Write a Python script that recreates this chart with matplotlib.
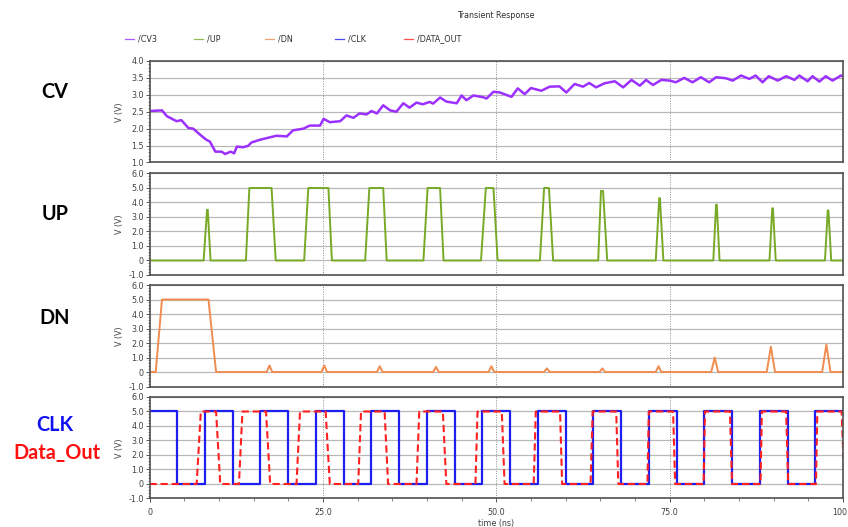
import numpy as np
import matplotlib
matplotlib.use("Agg")
import matplotlib.pyplot as plt
from matplotlib.lines import Line2D
from matplotlib.ticker import MultipleLocator, FixedLocator, FuncFormatter

# ---------------- data (time in ns, voltage in V) ----------------
cv_t = [0.0, 1.8, 2.5, 3.9, 4.6, 5.6, 6.3, 7.3, 8.2, 8.7, 9.5, 10.4, 10.9, 11.7, 12.2,
        12.6, 13.5, 14.2, 14.7, 15.9, 16.9, 18.3, 19.8, 20.7, 22.2, 23.1, 24.6, 25.1,
        26.0, 27.5, 28.4, 29.4, 30.3, 31.3, 32.0, 32.8, 33.7, 34.7, 35.6, 36.6, 37.5,
        38.5, 39.4, 40.4, 40.9, 41.9, 42.8, 44.3, 45.0, 45.7, 46.7, 48.1, 48.6, 49.6,
        50.5, 52.2, 53.1, 54.1, 55.0, 56.5, 57.7, 59.1, 60.1, 61.3, 62.5, 63.4, 64.4,
        65.6, 67.1, 68.3, 69.5, 70.7, 71.6, 72.6, 73.8, 75.0, 75.9, 77.1, 78.3, 79.5,
        80.7, 81.7, 83.1, 84.1, 85.3, 86.5, 87.4, 88.4, 89.3, 90.6, 91.8, 93.0, 93.7,
        94.9, 95.6, 96.6, 97.5, 98.5, 99.7, 100.0]
cv_v = [2.52, 2.54, 2.37, 2.22, 2.25, 2.02, 2.00, 1.82, 1.67, 1.62, 1.32, 1.32, 1.25, 1.32, 1.27,
        1.47, 1.45, 1.49, 1.59, 1.67, 1.72, 1.79, 1.77, 1.95, 2.00, 2.09, 2.09, 2.29,
        2.19, 2.22, 2.39, 2.32, 2.45, 2.42, 2.52, 2.45, 2.69, 2.54, 2.50, 2.75, 2.62,
        2.77, 2.72, 2.79, 2.74, 2.92, 2.80, 2.75, 2.98, 2.84, 2.98, 2.93, 2.89, 3.09,
        3.07, 2.94, 3.19, 3.02, 3.20, 3.12, 3.24, 3.25, 3.07, 3.32, 3.24, 3.35, 3.22,
        3.34, 3.40, 3.22, 3.44, 3.27, 3.44, 3.29, 3.44, 3.42, 3.37, 3.50, 3.37, 3.52,
        3.37, 3.52, 3.49, 3.42, 3.57, 3.47, 3.57, 3.37, 3.55, 3.42, 3.55, 3.44, 3.57,
        3.40, 3.55, 3.39, 3.55, 3.42, 3.57, 3.55]

# UP pulses: rise start / rise end / fall start / fall end / peak
up_rise0 = [7.8, 13.9, 22.3, 31.1, 39.5, 47.8, 56.3, 64.7, 73.0, 81.3, 89.4, 97.4]
up_rise1 = [8.3, 14.4, 22.9, 31.7, 40.1, 48.5, 56.9, 65.1, 73.5, 81.7, 89.8, 97.8]
up_fall0 = [8.4, 17.6, 25.8, 33.7, 41.9, 49.6, 57.6, 65.4, 73.6, 81.8, 89.9, 97.9]
up_fall1 = [8.8, 18.2, 26.3, 34.2, 42.4, 50.2, 58.2, 66.0, 74.1, 82.2, 90.3, 98.3]
up_peak = [3.5, 5.0, 5.0, 5.0, 5.0, 5.0, 5.0, 4.8, 4.3, 3.85, 3.6, 3.45]

# DN pulses
dn_rise0 = [0.9, 16.9, 24.8, 32.8, 40.9, 48.9, 56.9, 64.9, 73.0, 81.0, 89.0, 97.0]
dn_rise1 = [1.8, 17.3, 25.2, 33.2, 41.3, 49.3, 57.3, 65.3, 73.4, 81.5, 89.6, 97.6]
dn_fall0 = [8.5, 17.3, 25.2, 33.2, 41.3, 49.3, 57.3, 65.3, 73.4, 81.5, 89.6, 97.6]
dn_fall1 = [9.6, 17.7, 25.6, 33.6, 41.7, 49.7, 57.7, 65.7, 73.8, 82.0, 90.2, 98.2]
dn_peak = [5.0, 0.45, 0.45, 0.40, 0.35, 0.40, 0.25, 0.25, 0.40, 1.0, 1.75, 1.9]

# CLK edges
clk_fall = [4, 12, 20, 28, 36, 44, 52, 60, 68, 76, 84, 92]
clk_rise = [8, 16, 24, 32, 40, 48, 56, 64, 72, 80, 88, 96]
clk_high = 5.0

# DATA_OUT edges
data_rise0 = [6.8, 12.9, 21.2, 30.1, 38.5, 47.0, 55.4, 63.6, 71.8, 79.9, 88.1, 96.1]
data_rise1 = [7.4, 13.4, 21.7, 30.5, 38.9, 47.3, 55.7, 63.9, 72.0, 80.1, 88.3, 96.3]
data_fall0 = [9.6, 16.8, 25.4, 33.9, 42.3, 50.8, 59.2, 67.3, 75.5, 83.7, 91.8, 99.8]
data_fall1 = [10.2, 17.4, 26.0, 34.4, 42.8, 51.2, 59.5, 67.6, 75.8, 84.0, 92.1, 100.2]
data_high = 5.0

t_end = 100.0

x_ticks = [0, 25, 50, 75, 100]


def pulse_train(r0, r1, f0, f1, peaks):
    t, v = [0.0], [0.0]
    for a, b, c, d, p in zip(r0, r1, f0, f1, peaks):
        t += [a, b, c, d]
        v += [0.0, p, p, 0.0]
    t.append(t_end)
    v.append(0.0)
    return t, v


def clock_wave(falls, rises, high):
    t, v = [0.0], [high]
    for f, r in zip(falls, rises):
        t += [f, f, r, r]
        v += [high, 0.0, 0.0, high]
    t.append(t_end)
    v.append(high)
    return t, v


up_t, up_v = pulse_train(up_rise0, up_rise1, up_fall0, up_fall1, up_peak)
dn_t, dn_v = pulse_train(dn_rise0, dn_rise1, dn_fall0, dn_fall1, dn_peak)
clk_t, clk_v = clock_wave(clk_fall, clk_rise, clk_high)
data_t, data_v = pulse_train(data_rise0, data_rise1, data_fall0, data_fall1,
                             [data_high] * len(data_rise0))

# ---------------- styling ----------------
C_CV = "#9b30ff"
C_UP = "#78aa28"
C_DN = "#f08c50"
C_CLK = "#1e1ef0"
C_DATA = "#ff2020"
TICK_C = "#404040"
FS = 5.8

fig = plt.figure(figsize=(8.48, 5.27), dpi=100)
fig.patch.set_facecolor("white")

left, width, height = 0.1763, 0.8178, 0.1926
bottoms = [0.6917, 0.4782, 0.2666, 0.0541]
axes = [fig.add_axes([left, b, width, height]) for b in bottoms]


def vfmt(v, pos):
    return "0" if abs(v) < 1e-9 else f"{v:.1f}"


for i, ax in enumerate(axes):
    ax.set_xlim(0, 100)
    for s in ax.spines.values():
        s.set_color("#505050")
        s.set_linewidth(1.2)
    ax.yaxis.set_major_formatter(FuncFormatter(vfmt))
    ax.tick_params(axis="y", which="major", length=3, width=0.7, colors="#555555",
                   labelsize=FS, labelcolor=TICK_C, pad=1)
    ax.tick_params(axis="y", which="minor", length=1.6, width=0.5, colors="#555555")
    ax.grid(True, axis="y", which="major", color="#b8b8b8", linewidth=0.9, linestyle="-")
    ax.set_axisbelow(True)
    for xv in [25, 50, 75]:
        ax.axvline(xv, color="#8a8a8a", linewidth=0.7, linestyle=(0, (1, 1.5)), zorder=0.5)
    ax.set_ylabel("V (V)", fontsize=FS, color=TICK_C)
    ax.yaxis.set_label_coords(-0.037, 0.5)
    if i < 3:
        ax.tick_params(axis="x", which="both", length=0, labelbottom=False)
    else:
        ax.xaxis.set_major_locator(FixedLocator(x_ticks))
        ax.xaxis.set_major_formatter(FuncFormatter(vfmt))
        ax.xaxis.set_minor_locator(MultipleLocator(5))
        ax.tick_params(axis="x", which="major", length=3, width=0.7, colors="#555555",
                       labelsize=FS, labelcolor=TICK_C, pad=4)
        ax.tick_params(axis="x", which="minor", length=2, width=0.5, colors="#555555")
        ax.set_xlabel("time (ns)", fontsize=FS, color=TICK_C, labelpad=1)

# CV
ax = axes[0]
ax.set_ylim(1.0, 4.0)
ax.yaxis.set_major_locator(MultipleLocator(0.5))
ax.yaxis.set_minor_locator(MultipleLocator(0.1))
ax.plot(cv_t, cv_v, color=C_CV, linewidth=1.8, solid_joinstyle="round")

# UP / DN / CLK panels share -1..6 range
for ax in axes[1:]:
    ax.set_ylim(-1.0, 6.0)
    ax.yaxis.set_major_locator(MultipleLocator(1.0))
    ax.yaxis.set_minor_locator(MultipleLocator(0.2))

axes[1].plot(up_t, up_v, color=C_UP, linewidth=1.4)
axes[2].plot(dn_t, dn_v, color=C_DN, linewidth=1.4)
axes[3].plot(clk_t, clk_v, color=C_CLK, linewidth=1.6)
axes[3].plot(data_t, data_v, color=C_DATA, linewidth=1.5, linestyle=(0, (3.5, 1.8)))

# title and legend row
fig.text(0.5847, 1 - 15 / 527, "Transient Response", ha="center", va="center",
         fontsize=FS, color="#303030")
legend_items = [("/CV3", C_CV), ("/UP", C_UP), ("/DN", C_DN), ("/CLK", C_CLK),
                ("/DATA_OUT", C_DATA)]
legend_x = [125, 194, 265, 335, 404]
ly = 1 - 39 / 527
for (lab, col), px in zip(legend_items, legend_x):
    fig.add_artist(Line2D([px / 848, (px + 9) / 848], [ly, ly], color=col,
                          linewidth=0.9, alpha=0.8, transform=fig.transFigure))
    fig.text((px + 13) / 848, ly, lab, ha="left", va="center", fontsize=FS, color="#303030")

# panel names on the left
bold = dict(fontsize=14.3, fontweight="bold", family=["Lato", "DejaVu Sans"],
            ha="center", va="center")
fig.text(55 / 848, 1 - 92 / 527, "CV", color="black", **bold)
fig.text(55 / 848, 1 - 214 / 527, "UP", color="black", **bold)
fig.text(55 / 848, 1 - 318 / 527, "DN", color="black", **bold)
fig.text(55 / 848, 1 - 425 / 527, "CLK", color="#1010f0", **bold)
fig.text(57 / 848, 1 - 453 / 527, "Data_Out", color="#ff1010", **bold)

fig.savefig("out.png", dpi=100, facecolor="white")
